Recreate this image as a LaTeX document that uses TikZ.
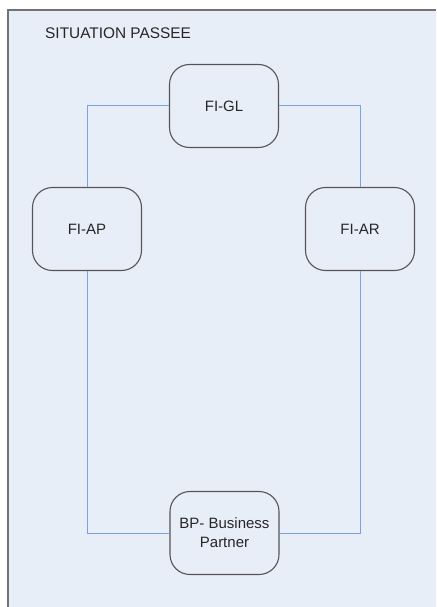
\documentclass[tikz,border=0pt]{standalone}
\usepackage{fontspec}
\setmainfont{Liberation Sans}
\usepackage{tikz}
\usetikzlibrary{positioning,calc}
\definecolor{paneblue}{HTML}{E8EEF8}
\definecolor{linkblue}{HTML}{7DA2DA}
\definecolor{boxgray}{HTML}{555555}
\tikzstyle{module} = [draw=boxgray,line width=1.1pt,rounded corners=20pt,minimum width=109pt,minimum height=83pt,align=center,text=black!85,font=\fontsize{15}{19}\selectfont]
\tikzstyle{link} = [draw=linkblue,line width=1pt]

\begin{document}
\begin{tikzpicture}[x=1pt,y=-1pt]
        \useasboundingbox (0,0) rectangle (436,607);
        \fill[paneblue] (8,10) rectangle (436,607);
        % only the left and top edges of the pane show
        \draw[draw=black!55,line width=1.5pt] (8,607) -- (8,10) -- (436,10);

        \node[font=\fontsize{15.4}{18}\selectfont,text=black!85,anchor=west,inner sep=0] (title) at (45,33) {SITUATION PASSEE};

        \node[module] (gl) at (224,106) {FI-GL};
        \node[module] (ap) at (87,229) {FI-AP};
        \node[module] (ar) at (360,229) {FI-AR};
        \node[module] (bp) at (224.5,533) {BP- Business\\Partner};

        \draw[link] (gl.west) -| (ap.north);
        \draw[link] (gl.east) -| (ar.north);
        \draw[link] (ap.south) |- (bp.west);
        \draw[link] (ar.south) |- (bp.east);
\end{tikzpicture}
\end{document}
